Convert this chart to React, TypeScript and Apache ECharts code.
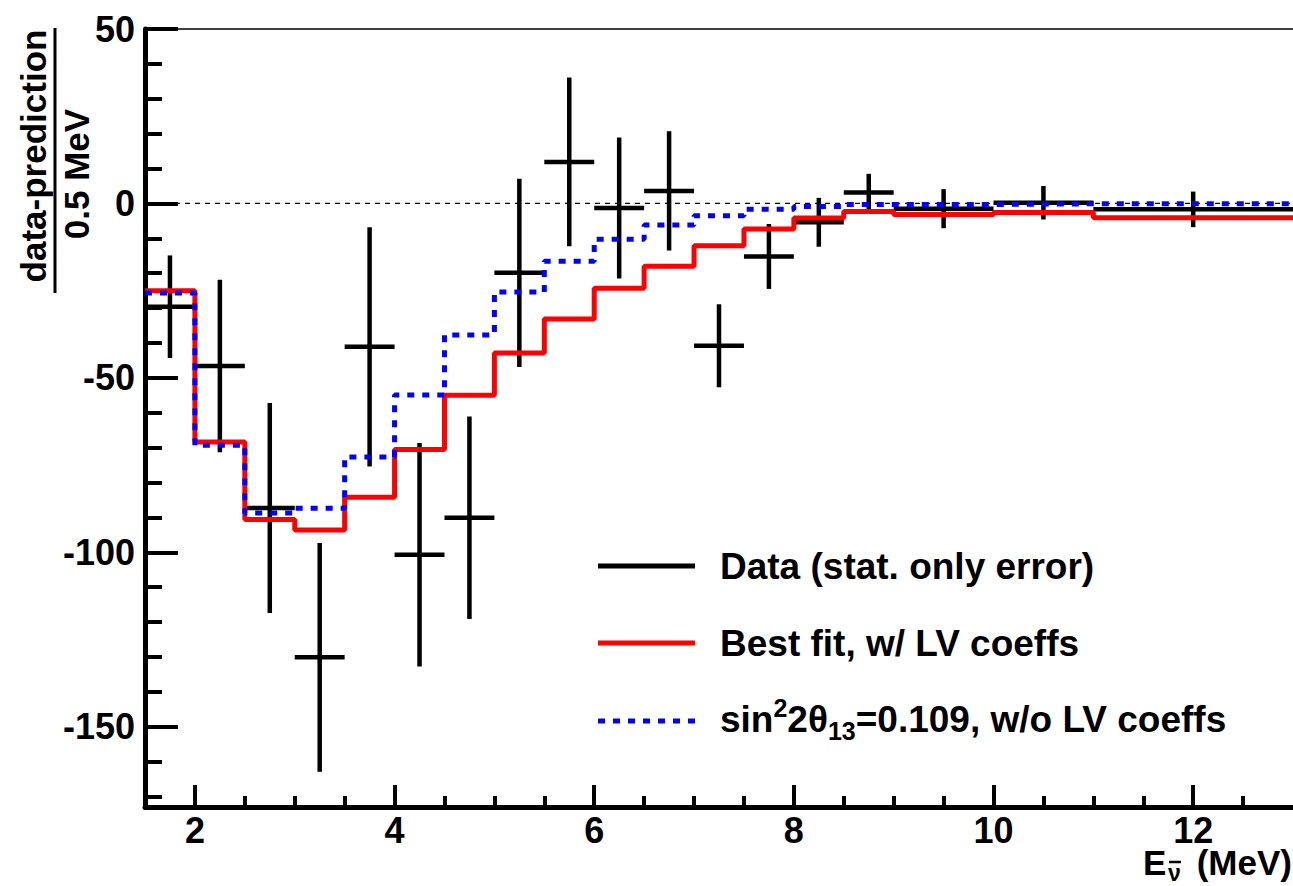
import React, { useEffect, useRef } from "react";
import * as echarts from "echarts";

const FONT = "'Liberation Sans', Arial, Helvetica, sans-serif";

// Bin edges (MeV)
const binEdges = [1.5, 2, 2.5, 3, 3.5, 4, 4.5, 5, 5.5, 6, 6.5, 7, 7.5, 8, 8.5, 9, 10, 11, 13];
// Data (stat. only error)
const dataValues = [-29.6, -46.6, -87.3, -130.1, -41.1, -100.7, -90.1, -19.9, 11.9, -1.3, 3.6, -40.8, -15.2, -5.4, 3.1, -1.5, 0.2, -1.7];
const dataErrors = [14.7, 24.7, 30.1, 32.8, 34.3, 32.0, 29.0, 27.0, 24.2, 20.2, 17.1, 11.9, 9.3, 7.0, 5.4, 5.6, 4.8, 5.1];
// Best fit, w/ LV coeffs
const bestFitValues = [-25.0, -68.4, -90.6, -93.6, -84.2, -70.5, -55.0, -42.9, -33.1, -24.3, -18.0, -12.1, -7.3, -4.2, -2.3, -3.2, -2.6, -4.1];
// sin^2 2theta13 = 0.109, w/o LV coeffs
const noLvValues = [-25.7, -69.3, -88.7, -87.4, -72.7, -54.9, -37.7, -25.4, -16.6, -10.3, -6.2, -3.5, -1.7, -0.9, -0.3, -0.3, -0.1, -0.1];

// Axis ticks
const xMajorTicks = [2, 4, 6, 8, 10, 12];
const xMinorTicks = [2.5, 3, 3.5, 4.5, 5, 5.5, 6.5, 7, 7.5, 8.5, 9, 9.5, 10.5, 11, 11.5, 12.5];
const yMajorTicks = [-150, -100, -50, 0, 50];
const yMinorTicks = [-170, -160, -140, -130, -120, -110, -90, -80, -70, -60, -40, -30, -20, -10, 10, 20, 30, 40];
const xRange = [1.5, 13];
const yRange = [-173, 50];

function stepPoints(vals: number[]) {
  const pts: number[][] = vals.map((v, i) => [binEdges[i], v]);
  pts.push([binEdges[binEdges.length - 1], vals[vals.length - 1]]);
  return pts;
}

export default function App() {
  const ref = useRef<HTMLDivElement>(null);
  useEffect(() => {
    if (!ref.current) return;
    const chart = echarts.init(ref.current, null, { renderer: "svg" });
    const errData = dataValues.map((v, i) => [
      (binEdges[i] + binEdges[i + 1]) / 2,
      v,
      dataErrors[i],
      binEdges[i],
      binEdges[i + 1],
    ]);
    const axisFont = { fontSize: 36, fontWeight: "bold", fontFamily: FONT, color: "#000" };
    const legendFont = { fontSize: 37, fontWeight: "bold", fontFamily: FONT, fill: "#000" };
    const option: any = {
      animation: false,
      backgroundColor: "#fff",
      grid: { left: 145, right: 0, top: 29, bottom: 79, containLabel: false },
      xAxis: [
        {
          type: "value",
          min: xRange[0],
          max: xRange[1],
          position: "bottom",
          axisLine: { show: true, onZero: false, lineStyle: { color: "#000", width: 5 } },
          axisTick: { show: true, inside: true, length: 22, customValues: xMajorTicks, lineStyle: { color: "#000", width: 4 } },
          axisLabel: { show: true, customValues: xMajorTicks, margin: 9, lineHeight: 28, ...axisFont },
          splitLine: { show: false },
        },
        {
          type: "value",
          min: xRange[0],
          max: xRange[1],
          position: "bottom",
          axisLine: { show: false, onZero: false },
          axisTick: { show: true, inside: true, length: 11, customValues: xMinorTicks, lineStyle: { color: "#000", width: 4 } },
          axisLabel: { show: false },
          splitLine: { show: false },
        },
      ],
      yAxis: [
        {
          type: "value",
          min: yRange[0],
          max: yRange[1],
          position: "left",
          axisLine: { show: true, onZero: false, lineStyle: { color: "#000", width: 5 } },
          axisTick: { show: true, inside: true, length: 33, customValues: yMajorTicks, lineStyle: { color: "#000", width: 4 } },
          axisLabel: { show: true, customValues: yMajorTicks, margin: 10, ...axisFont },
          splitLine: { show: false },
        },
        {
          type: "value",
          min: yRange[0],
          max: yRange[1],
          position: "left",
          axisLine: { show: false, onZero: false },
          axisTick: { show: true, inside: true, length: 17, customValues: yMinorTicks, lineStyle: { color: "#000", width: 4 } },
          axisLabel: { show: false },
          splitLine: { show: false },
        },
      ],
      series: [
        {
          name: "zero",
          type: "line",
          z: 1,
          clip: false,
          symbol: "none",
          data: [[xRange[0], 0], [xRange[1], 0]],
          lineStyle: { color: "#000", width: 1.2, type: [5, 5] },
          silent: true,
        },
        {
          name: "frame-top",
          type: "line",
          z: 1,
          clip: false,
          symbol: "none",
          data: [[xRange[0], yRange[1]], [xRange[1], yRange[1]]],
          lineStyle: { color: "#000", width: 1.5 },
          silent: true,
        },
        {
          name: "Data (stat. only error)",
          type: "custom",
          z: 2,
          data: errData,
          encode: { x: 0, y: 1 },
          renderItem: (params: any, api: any) => {
            const xc = api.value(0);
            const yv = api.value(1);
            const er = api.value(2);
            const c = api.coord([xc, yv]);
            const top = api.coord([xc, yv + er]);
            const bot = api.coord([xc, yv - er]);
            const l = api.coord([api.value(3), yv]);
            const r = api.coord([api.value(4), yv]);
            const style = { stroke: "#000", lineWidth: 4.5 };
            return {
              type: "group",
              children: [
                { type: "line", shape: { x1: c[0], y1: top[1], x2: c[0], y2: bot[1] }, style },
                { type: "line", shape: { x1: l[0], y1: c[1], x2: r[0], y2: c[1] }, style },
              ],
            };
          },
        },
        {
          name: "Best fit, w/ LV coeffs",
          type: "line",
          z: 3,
          step: "end",
          symbol: "none",
          data: stepPoints(bestFitValues),
          lineStyle: { color: "#ff0000", width: 5 },
        },
        {
          name: "sin22theta13=0.109, w/o LV coeffs",
          type: "line",
          z: 4,
          step: "end",
          symbol: "none",
          data: stepPoints(noLvValues),
          lineStyle: { color: "#0000ff", width: 5, type: [7, 8] },
        },
      ],
      graphic: [
        // Y axis title (fraction)
        {
          type: "text",
          x: 33,
          y: 156,
          rotation: Math.PI / 2,
          style: { text: "data-prediction", x: 0, y: 0, textAlign: "center", textVerticalAlign: "middle", fontSize: 35, fontWeight: "bold", fontFamily: FONT, fill: "#000" },
        },
        {
          type: "line",
          shape: { x1: 55, y1: 28, x2: 55, y2: 293 },
          style: { stroke: "#000", lineWidth: 3 },
        },
        {
          type: "text",
          x: 76,
          y: 174,
          rotation: Math.PI / 2,
          style: { text: "0.5 MeV", x: 0, y: 0, textAlign: "center", textVerticalAlign: "middle", fontSize: 35, fontWeight: "bold", fontFamily: FONT, fill: "#000" },
        },
        // X axis title: E_{nu-bar} (MeV)
        {
          type: "text",
          x: 1143,
          y: 862,
          style: { text: "E", x: 0, y: 0, textAlign: "left", textVerticalAlign: "middle", fontSize: 35, lineHeight: 30, fontWeight: "bold", fontFamily: FONT, fill: "#000" },
        },
        {
          type: "text",
          x: 1168,
          y: 873,
          style: { text: "\u03BD", x: 0, y: 0, textAlign: "left", textVerticalAlign: "middle", fontSize: 23, lineHeight: 16, fontWeight: "bold", fontFamily: FONT, fill: "#000" },
        },
        {
          type: "line",
          shape: { x1: 1169, y1: 862, x2: 1181, y2: 862 },
          style: { stroke: "#000", lineWidth: 2.5 },
        },
        {
          type: "text",
          x: 1292,
          y: 862,
          style: { text: "(MeV)", x: 0, y: 0, textAlign: "right", textVerticalAlign: "middle", fontSize: 35, lineHeight: 30, fontWeight: "bold", fontFamily: FONT, fill: "#000" },
        },
        // Legend
        { type: "line", shape: { x1: 598, y1: 566, x2: 695, y2: 566 }, style: { stroke: "#000", lineWidth: 5 } },
        { type: "line", shape: { x1: 598, y1: 643, x2: 695, y2: 643 }, style: { stroke: "#ff0000", lineWidth: 5 } },
        { type: "line", shape: { x1: 598, y1: 721, x2: 695, y2: 721 }, style: { stroke: "#0000ff", lineWidth: 5, lineDash: [7, 8] } },
        {
          type: "text",
          x: 720,
          y: 566,
          style: { text: "Data (stat. only error)", x: 0, y: 0, textAlign: "left", textVerticalAlign: "middle", ...legendFont },
        },
        {
          type: "text",
          x: 720,
          y: 643,
          style: { text: "Best fit, w/ LV coeffs", x: 0, y: 0, textAlign: "left", textVerticalAlign: "middle", ...legendFont },
        },
        {
          type: "text",
          x: 720,
          y: 719,
          style: {
            text: "{m|sin}{p|2}{m|2\u03B8}{b|13}{m|=0.109, w/o LV coeffs}",
            x: 0,
            y: 0,
            textAlign: "left",
            textVerticalAlign: "middle",
            fill: "#000",
            rich: {
              m: { fontSize: 37, fontWeight: "bold", fontFamily: FONT, lineHeight: 48, fill: "#000" },
              p: { fontSize: 25, fontWeight: "bold", fontFamily: FONT, lineHeight: 25, verticalAlign: "top", fill: "#000" },
              b: { fontSize: 25, fontWeight: "bold", fontFamily: FONT, lineHeight: 25, verticalAlign: "bottom", fill: "#000" },
            },
          },
        },
      ],
    };
    chart.setOption(option);
    return () => chart.dispose();
  }, []);
  return (
    <div
      ref={ref}
      style={{ position: "fixed", left: 0, top: 0, width: 1293, height: 886, background: "#fff" }}
    />
  );
}
